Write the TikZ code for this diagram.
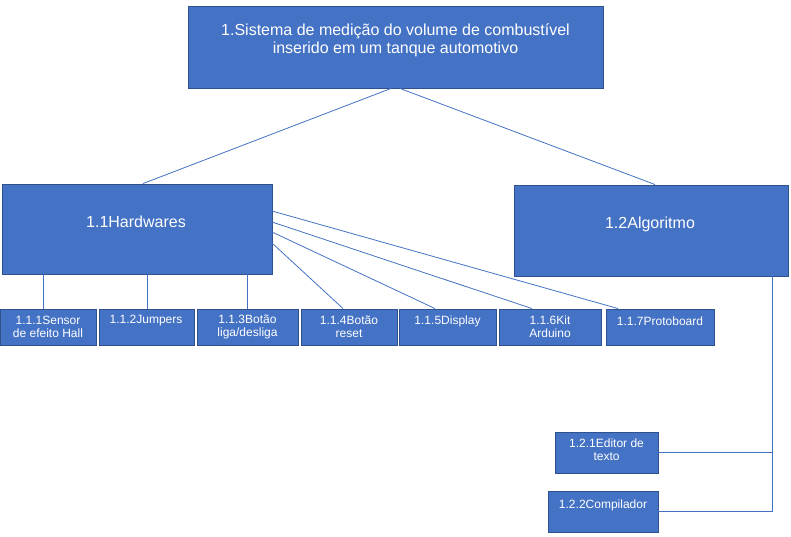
\documentclass[tikz,border=0pt]{standalone}
\usepackage{fontspec}
\setmainfont{Liberation Sans}
\definecolor{fillb}{HTML}{4472C4}
\definecolor{edgeb}{HTML}{2F528F}
\begin{document}
\begin{tikzpicture}[x=1pt,y=-1pt,
  box/.style={draw=edgeb, fill=fillb, line width=0.9pt, rectangle, inner sep=0pt},
  big/.style={text=white, align=center, font=\fontsize{16}{18}\selectfont, inner sep=0pt},
  small/.style={text=white, align=center, font=\fontsize{12}{13.4}\selectfont, inner sep=0pt},
  conn/.style={draw=fillb, line width=0.8pt}]
\useasboundingbox (0,0) rectangle (791,537);
% boxes
\node[box, minimum width=415pt, minimum height=82pt] (top) at (395.5,47) {};
\node[box, minimum width=270pt, minimum height=90pt] (hw) at (137,229) {};
\node[box, minimum width=274pt, minimum height=91pt] (alg) at (651,230.5) {};
\node[box, minimum width=96pt, minimum height=36pt] (b111) at (48,327) {};
\node[box, minimum width=95pt, minimum height=36pt] (b112) at (146.5,327) {};
\node[box, minimum width=101pt, minimum height=36pt] (b113) at (247.5,327) {};
\node[box, minimum width=96pt, minimum height=36pt] (b114) at (349,327) {};
\node[box, minimum width=97pt, minimum height=36pt] (b115) at (447.5,327) {};
\node[box, minimum width=102pt, minimum height=36pt] (b116) at (550,327) {};
\node[box, minimum width=108pt, minimum height=36pt] (b117) at (660,327) {};
\node[box, minimum width=103pt, minimum height=41pt] (b121) at (606.5,452.5) {};
\node[box, minimum width=110pt, minimum height=41pt] (b122) at (603,511.5) {};
% texts
\node[big] (ttop) at (395.5,40) {1.Sistema de medição do volume de combustível\\inserido em um tanque automotivo};
\node[big] (thw) at (136,222) {1.1Hardwares};
\node[big] (talg) at (650,224) {1.2Algoritmo};
\node[small] (t111) at (48,327) {1.1.1Sensor\\de efeito Hall};
\node[small] (t112) at (146,321) {1.1.2Jumpers};
\node[small] (t113) at (247.5,327) {1.1.3Botão\\liga/desliga};
\node[small] (t114) at (349,327) {1.1.4Botão\\reset};
\node[small] (t115) at (447.5,321) {1.1.5Display};
\node[small] (t116) at (550,327) {1.1.6Kit\\Arduino};
\node[small] (t117) at (660,321) {1.1.7Protoboard};
\node[small] (t121) at (606.5,450) {1.2.1Editor de\\texto};
\node[small] (t122) at (603,505.5) {1.2.2Compilador};
% connector end points
\coordinate (h7) at (272,211);
\coordinate (h6) at (272,222);
\coordinate (h5) at (272,232);
\coordinate (h4) at (272,243);
\coordinate (av) at (772,276);
% connectors
\draw[conn] ([xshift=-4.5pt]top.south) -- ([xshift=6pt]hw.north);
\draw[conn] ([xshift=4.5pt]top.south) -- ([xshift=4pt]alg.north);
\draw[conn] (b111.north -| 43,0) -- (hw.south -| 43,0);
\draw[conn] (b112.north -| 147,0) -- (hw.south -| 147,0);
\draw[conn] (b113.north) -- (b113.north |- hw.south);
\draw[conn] (h4) -- ([xshift=-6pt]b114.north);
\draw[conn] (h5) -- ([xshift=-12.5pt]b115.north);
\draw[conn] (h6) -- ([xshift=-18pt]b116.north);
\draw[conn] (h7) -- ([xshift=-42pt]b117.north);
\draw[conn] (av) |- (b122.east);
\draw[conn] (b121.east) -- (b121.east -| av);
\end{tikzpicture}
\end{document}
